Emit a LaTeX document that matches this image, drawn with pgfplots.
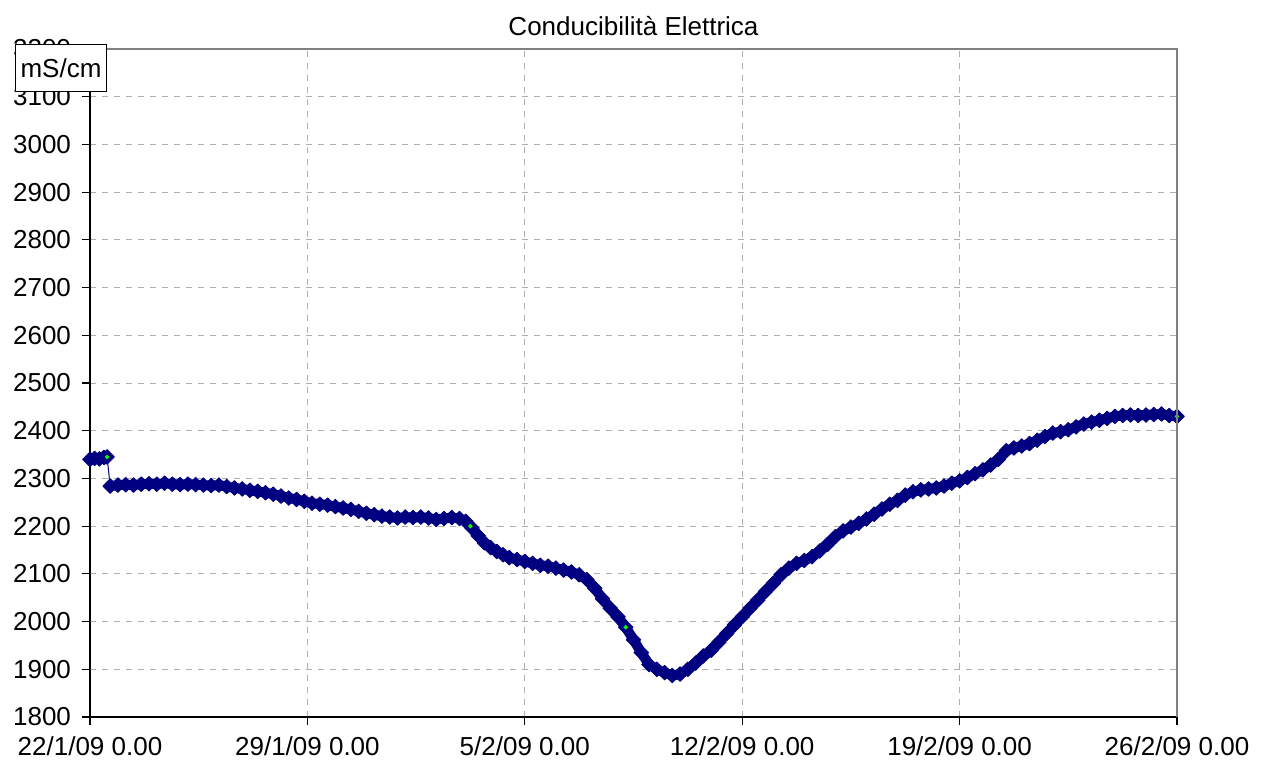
\documentclass[border=0pt]{standalone}
\usepackage{fontspec}
\setmainfont{Liberation Sans}
\usepackage{pgfplots}
\pgfplotsset{compat=1.18}
\definecolor{navyc}{RGB}{0,0,128}
\definecolor{gridc}{RGB}{175,175,175}
\definecolor{framec}{RGB}{128,128,128}
\definecolor{limec}{RGB}{0,255,0}
\begin{document}
\fontsize{13}{15}\selectfont
\begin{tikzpicture}
\begin{axis}[
 at={(0,0)}, anchor=south west,
 scale only axis, width=543.5pt, height=334pt,
 xmin=0, xmax=35, ymin=1800, ymax=3200,
 xtick={0,7,14,21,28,35},
 xticklabels={22/1/09 0.00,29/1/09 0.00,5/2/09 0.00,12/2/09 0.00,19/2/09 0.00,26/2/09 0.00},
 ytick={1800,1900,...,3200},
 axis lines*=left,
 axis line style={black, line width=0.8pt},
 tick align=outside, major tick length=4pt,
 tick style={black, line width=0.6pt},
 grid=major, major grid style={gridc, dash pattern=on 3pt off 3pt, line width=0.5pt},
 /pgf/number format/assume math mode=true,
 /pgf/number format/set thousands separator={},
 ticklabel style={font=\fontsize{13}{15}\selectfont},
 xticklabel style={yshift=-1.5pt},
 yticklabel style={xshift=-1pt},
 band/.style={navyc, line width=5pt, line join=round, line cap=round, mark=square*, mark size=2.6pt, mark options={rotate=45, fill=navyc, draw=navyc, line width=0.4pt}},
]
\addplot[band] coordinates {
(0.00,2340) (0.15,2342) (0.30,2341) (0.45,2344) (0.55,2345)
};
\addplot[navyc, line width=0.5pt] coordinates {(0.55,2345) (0.65,2284)};
\addplot[band] coordinates {
(0.65,2284) (0.90,2286) (1.15,2287) (1.40,2286) (1.65,2288) (1.90,2289)
(2.15,2288) (2.40,2290) (2.65,2288) (2.90,2287) (3.15,2288) (3.40,2287)
(3.65,2286) (3.90,2285) (4.15,2286) (4.40,2283) (4.65,2280) (4.90,2278)
(5.15,2275) (5.40,2273) (5.65,2270) (5.90,2267) (6.15,2263) (6.40,2259)
(6.65,2256) (6.90,2252) (7.15,2248) (7.40,2246) (7.65,2244) (7.90,2241)
(8.15,2238) (8.40,2235) (8.65,2231) (8.90,2227) (9.15,2224) (9.40,2221)
(9.65,2219) (9.90,2217) (10.15,2219) (10.40,2218) (10.65,2219) (10.90,2217)
(11.15,2214) (11.40,2216) (11.65,2218) (11.90,2216) (12.10,2210) (12.30,2196)
(12.50,2180) (12.70,2165) (12.90,2155) (13.10,2147) (13.30,2140) (13.50,2134)
(13.75,2130) (14.00,2126) (14.25,2122) (14.50,2118) (14.75,2116) (15.00,2112)
(15.25,2108) (15.50,2104) (15.75,2098) (16.00,2088) (16.25,2070) (16.50,2048)
(16.75,2028) (17.00,2010) (17.25,1988) (17.50,1962) (17.75,1935) (18.00,1910)
(18.25,1900) (18.50,1893) (18.75,1887) (19.00,1890) (19.25,1900) (19.50,1913)
(19.75,1928) (20.00,1940) (20.25,1957) (20.50,1975) (20.75,1993) (21.00,2010)
(21.25,2028) (21.50,2045) (21.75,2063) (22.00,2080) (22.25,2098) (22.50,2112)
(22.75,2122) (23.00,2128) (23.25,2136) (23.50,2148) (23.75,2162) (24.00,2178)
(24.25,2190) (24.50,2198) (24.75,2206) (25.00,2215) (25.25,2225) (25.50,2236)
(25.75,2246) (26.00,2254) (26.25,2265) (26.50,2272) (26.75,2276) (27.00,2278)
(27.25,2280) (27.50,2284) (27.75,2290) (28.00,2295) (28.25,2302) (28.50,2310)
(28.75,2318) (29.00,2328) (29.25,2340) (29.50,2358) (29.75,2364) (30.00,2368)
(30.25,2373) (30.50,2380) (30.75,2388) (31.00,2395) (31.25,2398) (31.50,2402)
(31.75,2408) (32.00,2414) (32.25,2418) (32.50,2422) (32.75,2426) (33.00,2430)
(33.25,2432) (33.50,2433) (33.75,2432) (34.00,2433) (34.25,2434) (34.50,2435)
(34.75,2432) (35.00,2430)
};
\addplot[only marks, mark=*, mark size=0.9pt, mark options={fill=limec, draw=limec}] coordinates {
(0.55,2345) (12.25,2200) (17.25,1988) (35.00,2430)
};
\end{axis}
\draw[framec, line width=1pt] (0,334pt) -- (543.5pt,334pt) -- (543.5pt,0pt);
\node[draw, fill=white, line width=0.5pt, minimum width=45.5pt, minimum height=23pt, inner sep=0pt] at (-14.5pt,324.5pt) {mS/cm};
\node[anchor=base] at (271.75pt,341pt) {Conducibilità Elettrica};
\pgfresetboundingbox
\path (-45pt,-28pt) rectangle (590pt,358.5pt);
\end{tikzpicture}
\end{document}
